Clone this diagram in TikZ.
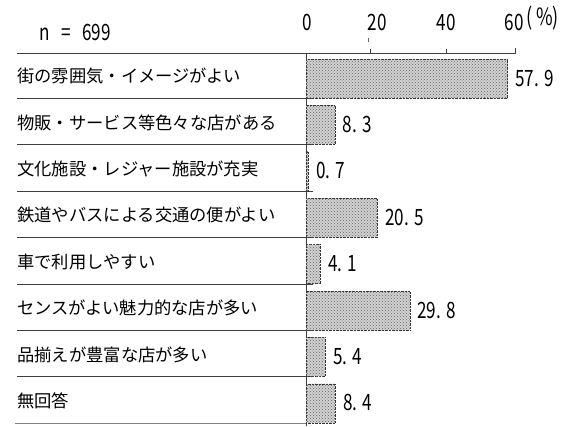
\documentclass[tikz,border=0pt]{standalone}
\usepackage{fontspec}
\setmainfont{Noto Sans CJK JP}
\usetikzlibrary{patterns}

\begin{document}
\begin{tikzpicture}[x=1pt,y=-1pt,
	bar/.style={draw=black!80,densely dotted,fill=black!18,postaction={pattern=crosshatch dots,pattern color=black!60}},
	lbl/.style={anchor=west,inner sep=0pt,font=\fontsize{17.3}{18}\selectfont},
	digits/.style={inner sep=0pt,xscale=0.95,yscale=1.25,transform shape,font=\fontsize{18}{20}\selectfont},
	num/.style={digits,anchor=west},
	sepline/.style={black!75,line width=0.8pt}]
	\useasboundingbox (0,0) rectangle (585,426);
	% scale and axis
	\node[digits] (n) at (75,32) {n\ \ \ =\ \ \ 699};
	\node[digits] (t0) at (307,22) {0};
	\node[digits] (t20) at (377,22) {20};
	\node[digits] (t40) at (446,22) {40};
	\node[digits] (t60) at (514,22) {60};
	\node[digits,anchor=west,font=\fontsize{19}{20}\selectfont] (pct) at (526,18) {(\ \%)};
	\draw[sepline] (17,53) -- (515,53) -- (515,48);
	\draw[sepline] (370,53) -- (370,49);
	\draw[sepline] (446,53) -- (446,49);
	\draw[black!60,line width=0.6pt] (368,38) -- (368,42);
	\draw[sepline] (306,53) -- (306,426);
	% row lines
	\draw[sepline] (17,98.4) -- (313,98.4);
	\draw[sepline] (17,144.8) -- (313,144.8);
	\draw[sepline] (17,191.2) -- (313,191.2);
	\draw[sepline] (17,237.6) -- (313,237.6);
	\draw[sepline] (17,284) -- (313,284);
	\draw[sepline] (17,330.4) -- (313,330.4);
	\draw[sepline] (17,376.8) -- (313,376.8);
	\draw[black!50,line width=0.6pt] (15,423.2) -- (306,423.2);
	% bars
	\draw[bar] (306,59) rectangle (507.5,98);
	\draw[bar] (306,105.4) rectangle (334.9,144.4);
	\draw[bar] (306,151.8) rectangle (308.4,190.8);
	\draw[bar] (306,198.2) rectangle (377.3,237.2);
	\draw[bar] (306,244.6) rectangle (320.3,283.6);
	\draw[bar] (306,291) rectangle (409.7,330);
	\draw[bar] (306,337.4) rectangle (324.8,376.4);
	\draw[bar] (306,383.8) rectangle (335.2,422.8);
	% labels
	\node[lbl] (r1) at (17,76) {街の雰囲気・イメージがよい};
	\node[lbl] (r2) at (17,122.4) {物販・サービス等色々な店がある};
	\node[lbl] (r3) at (17,168.8) {文化施設・レジャー施設が充実};
	\node[lbl] (r4) at (17,215.2) {鉄道やバスによる交通の便がよい};
	\node[lbl] (r5) at (17,261.6) {車で利用しやすい};
	\node[lbl] (r6) at (17,308) {センスがよい魅力的な店が多い};
	\node[lbl] (r7) at (17,354.4) {品揃えが豊富な店が多い};
	\node[lbl] (r8) at (17,400.8) {無回答};
	% values
	\node[num] (v1) at (515,78) {57. 9};
	\node[num] (v2) at (342.5,124.4) {8. 3};
	\node[num] (v3) at (316,170.8) {0. 7};
	\node[num] (v4) at (385,217.2) {20. 5};
	\node[num] (v5) at (328,263.6) {4. 1};
	\node[num] (v6) at (417,310) {29. 8};
	\node[num] (v7) at (333,356.4) {5. 4};
	\node[num] (v8) at (343,402.8) {8. 4};
\end{tikzpicture}
\end{document}
